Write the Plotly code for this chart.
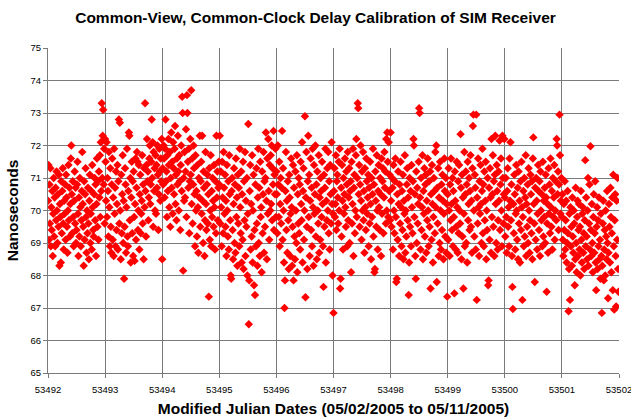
import plotly.graph_objects as go

# Start MJD of each day and the delay values (ns),
# listed in time order; samples are spread evenly over each day.
day_starts = [53492, 53493, 53494, 53495, 53496, 53497, 53498, 53499, 53500, 53501]

delay_53492 = [
    70.3, 71.4, 69.1, 70.8, 69.6, 71.3, 68.9, 70.1, 69.4, 70.6, 68.6, 69.9,
    71.0, 69.2, 70.4, 68.9, 70.7, 69.7, 71.2, 70.0, 69.0, 70.5, 69.5, 71.1,
    68.3, 70.2, 69.8, 68.4, 70.9, 69.3, 70.6, 71.3, 69.6, 68.8, 70.3, 69.9,
    70.8, 69.1, 71.1, 70.4, 69.5, 68.7, 70.0, 71.4, 69.7, 70.7, 69.2, 70.2,
    71.6, 72.0, 70.5, 69.3, 70.9, 69.8, 68.9, 70.3, 71.2, 69.6, 70.7, 69.0,
    69.4, 70.8, 71.5, 69.9, 68.6, 70.4, 69.2, 71.0, 70.1, 68.9, 69.7, 70.6,
    71.8, 70.2, 69.5, 68.3, 70.9, 69.1, 70.5, 71.3, 69.8, 68.7, 70.0, 69.3,
    70.7, 69.6, 68.5, 70.3, 71.1, 69.0, 69.9, 70.6, 68.8, 71.4, 70.1, 69.4,
    69.2, 70.5, 71.0, 69.7, 70.8, 68.6, 70.2, 71.6, 69.5, 70.9, 69.1, 71.2,
    70.4, 71.7, 69.8, 72.1, 70.6, 73.3, 71.0, 72.3, 73.1, 70.8, 71.9, 69.6,
]
delay_53493 = [
    72.2, 71.5, 70.3, 72.1, 69.8, 71.0, 70.6, 69.2, 71.8, 70.1, 68.9, 71.3,
    69.5, 68.7, 70.8, 71.6, 69.1, 70.4, 68.6, 71.9, 69.9, 70.7, 68.9, 71.2,
    69.4, 70.2, 71.4, 68.8, 70.9, 72.8, 69.6, 72.7, 70.0, 68.5, 71.1, 69.3,
    70.5, 71.7, 69.0, 70.3, 67.9, 69.5, 71.3, 70.8, 68.7, 70.1, 71.9, 69.2,
    68.9, 70.6, 72.4, 72.3, 69.7, 71.0, 68.4, 70.4, 71.5, 69.3, 70.9, 68.6,
    71.2, 69.8, 68.45, 70.2, 71.6, 69.1, 70.7, 71.8, 71.5, 69.4, 70.0, 71.4,
    68.8, 70.5, 71.1, 69.3, 69.9, 70.3, 71.7, 69.6, 70.8, 68.5, 71.3, 70.1,
    73.3, 70.6, 69.2, 71.4, 72.2, 70.9, 71.2, 69.7, 70.4, 71.6, 72.0, 70.2,
    70.8, 71.5, 72.8, 71.0, 72.1, 69.5, 71.8, 70.6, 71.3, 70.0, 71.7, 69.9,
    71.4, 70.7, 72.0, 71.1, 69.4, 70.5, 71.9, 71.2, 70.3, 71.6, 70.9, 72.2,
]
delay_53494 = [
    68.5, 71.3, 70.8, 72.0, 71.6, 70.4, 71.9, 72.8, 70.9, 71.2, 69.8, 71.7,
    70.6, 72.2, 71.4, 70.1, 71.8, 69.5, 71.0, 72.4, 70.7, 71.5, 69.9, 72.1,
    71.3, 70.5, 71.9, 72.6, 70.2, 71.1, 69.7, 71.6, 70.8, 72.3, 71.2, 70.0,
    71.7, 70.9, 69.4, 71.4, 72.0, 70.6, 73.5, 73.0, 68.15, 71.0, 70.3, 71.8,
    70.4, 71.2, 72.5, 69.8, 73.55, 73.0, 71.5, 70.7, 71.9, 69.3, 70.9, 72.2,
    71.1, 73.7, 70.2, 71.6, 69.6, 70.8, 72.0, 71.3, 70.5, 68.9, 71.7, 70.0,
    70.6, 69.2, 71.4, 70.1, 68.7, 71.0, 70.4, 72.3, 69.5, 70.9, 71.5, 69.9,
    72.3, 70.3, 69.0, 71.2, 70.7, 68.6, 69.7, 71.8, 70.2, 69.4, 70.8, 71.1,
    69.6, 70.5, 67.35, 71.3, 69.1, 70.0, 71.7, 68.9, 70.6, 69.8, 71.0, 70.3,
    69.5, 71.4, 70.1, 68.8, 70.9, 69.3, 72.3, 70.4, 71.2, 69.7, 70.7, 71.5,
]
delay_53495 = [
    70.8, 72.3, 69.6, 71.2, 70.1, 68.9, 71.5, 70.4, 69.3, 71.8, 70.7, 69.9,
    71.1, 69.5, 70.3, 68.6, 71.4, 70.0, 69.2, 70.9, 68.8, 71.7, 70.5, 69.7,
    68.0, 67.9, 70.6, 71.0, 69.4, 68.5, 70.2, 71.3, 69.0, 70.8, 68.7, 71.6,
    69.8, 70.4, 68.3, 71.1, 69.6, 70.7, 68.9, 71.9, 70.1, 69.3, 71.2, 68.4,
    70.5, 69.1, 71.5, 68.2, 70.9, 69.7, 71.8, 68.6, 70.3, 69.5, 71.0, 68.0,
    69.9, 72.66, 66.5, 67.85, 70.6, 71.4, 68.8, 70.2, 69.2, 71.7, 68.4, 70.0,
    71.1, 67.7, 69.4, 67.4, 70.8, 68.9, 71.3, 69.6, 68.3, 70.4, 71.9, 69.0,
    70.7, 68.6, 71.5, 69.8, 70.1, 68.1, 71.2, 69.3, 70.5, 71.8, 68.7, 70.9,
    69.5, 71.0, 72.4, 70.3, 68.5, 71.6, 69.9, 72.2, 70.6, 69.1, 71.4, 70.0,
    71.7, 70.2, 72.0, 69.7, 71.3, 70.8, 72.45, 69.4, 71.1, 70.5, 71.9, 69.8,
]
delay_53496 = [
    71.2, 70.5, 69.3, 72.0, 70.8, 69.8, 71.5, 68.9, 70.2, 71.0, 69.6, 70.7,
    72.45, 69.1, 71.3, 70.0, 68.4, 67.0, 67.85, 70.6, 71.8, 69.4, 70.3, 68.7,
    70.9, 69.7, 68.2, 71.1, 70.4, 68.6, 69.9, 71.6, 70.1, 68.3, 69.5, 71.4,
    67.85, 70.7, 69.2, 68.5, 71.2, 70.0, 69.0, 71.7, 68.1, 70.5, 69.6, 71.0,
    69.3, 70.8, 68.8, 71.5, 70.2, 69.7, 72.1, 68.4, 70.6, 71.3, 69.1, 70.0,
    72.9, 67.33, 70.4, 71.8, 69.5, 68.2, 70.9, 72.3, 69.8, 71.1, 68.6, 70.3,
    71.6, 69.4, 70.7, 68.9, 71.9, 70.1, 68.3, 71.4, 69.9, 70.5, 72.0, 69.2,
    70.8, 68.5, 71.2, 70.0, 69.6, 71.7, 68.7, 70.4, 69.1, 71.0, 70.6, 69.8,
    71.5, 70.2, 68.9, 67.65, 71.1, 69.5, 70.7, 71.9, 68.4, 70.3, 69.7, 71.3,
    70.0, 71.8, 69.3, 70.9, 68.8, 71.4, 70.5, 69.6, 72.1, 70.2, 68.0, 69.9,
]
delay_53497 = [
    66.85, 70.6, 71.3, 69.8, 70.2, 71.7, 69.4, 70.9, 71.1, 70.4, 69.6, 71.5,
    70.0, 71.9, 67.6, 67.9, 70.7, 69.2, 71.4, 70.3, 68.8, 71.0, 69.9, 70.5,
    71.6, 70.1, 69.5, 71.2, 70.8, 68.9, 71.8, 69.7, 70.4, 71.3, 69.0, 70.6,
    70.9, 68.1, 71.5, 69.6, 70.2, 71.9, 68.6, 70.7, 71.1, 69.3, 70.0, 71.7,
    72.2, 69.8, 71.0, 73.3, 73.15, 70.5, 71.4, 69.5, 70.8, 72.0, 70.3, 69.1,
    71.2, 70.0, 71.8, 69.7, 70.6, 68.7, 71.3, 70.1, 69.4, 71.6, 70.9, 69.9,
    70.4, 71.1, 68.9, 70.7, 69.6, 71.5, 70.2, 68.5, 71.0, 69.8, 70.5, 71.9,
    69.2, 70.8, 68.1, 68.2, 71.2, 70.3, 69.5, 71.7, 70.0, 68.8, 70.6, 71.4,
    70.1, 69.4, 71.0, 70.5, 68.6, 71.6, 69.9, 70.9, 71.3, 69.3, 70.4, 71.8,
    70.7, 71.2, 69.6, 72.2, 70.0, 72.4, 71.5, 69.8, 72.1, 70.6, 71.1, 69.7,
]
delay_53498 = [
    72.4, 70.3, 69.5, 71.0, 70.7, 68.8, 71.4, 70.0, 69.3, 70.9, 71.6, 69.8,
    67.8, 67.9, 70.5, 69.1, 71.2, 70.2, 68.6, 70.8, 69.6, 71.5, 70.1, 68.9,
    70.6, 69.4, 71.1, 68.5, 70.3, 69.9, 71.7, 68.7, 70.0, 69.2, 70.8, 71.3,
    69.7, 70.4, 67.4, 68.4, 71.0, 69.5, 70.6, 68.9, 71.4, 70.1, 69.3, 70.9,
    72.2, 72.0, 69.8, 70.5, 68.6, 67.9, 71.2, 69.0, 70.7, 69.6, 70.2, 71.5,
    73.15, 73.0, 70.4, 68.8, 71.0, 69.4, 70.1, 71.7, 68.5, 70.6, 69.9, 71.3,
    69.2, 70.8, 71.1, 68.7, 70.3, 69.7, 71.6, 70.0, 68.9, 70.9, 69.5, 71.2,
    67.6, 70.5, 69.1, 71.4, 70.2, 68.4, 69.8, 71.0, 70.6, 69.3, 71.8, 70.1,
    72.0, 67.8, 70.7, 69.6, 71.3, 68.6, 70.4, 69.0, 71.5, 70.0, 68.8, 70.8,
    69.4, 71.1, 70.3, 68.5, 69.9, 71.6, 70.6, 69.2, 71.0, 68.7, 70.2, 67.35,
]
delay_53499 = [
    70.5, 69.1, 71.3, 70.0, 68.6, 70.8, 69.7, 71.6, 70.2, 69.4, 71.0, 68.9,
    70.6, 69.8, 67.45, 71.2, 70.3, 68.8, 69.5, 71.5, 70.1, 68.7, 70.9, 69.3,
    71.4, 70.0, 69.6, 72.35, 70.7, 68.5, 71.1, 69.2, 70.4, 67.6, 69.9, 71.8,
    68.9, 70.5, 71.2, 69.0, 70.8, 68.4, 71.5, 69.7, 70.2, 71.0, 69.4, 70.6,
    71.7, 69.5, 70.3, 68.7, 71.3, 72.6, 72.95, 70.0, 69.2, 71.1, 70.7, 68.8,
    72.95, 67.25, 70.4, 69.6, 71.6, 70.1, 68.6, 70.9, 69.9, 71.4, 70.2, 69.0,
    70.6, 71.9, 69.3, 70.8, 68.9, 71.2, 69.7, 70.3, 71.5, 68.5, 70.0, 69.4,
    71.0, 67.7, 67.85, 70.7, 69.1, 71.3, 70.4, 68.7, 72.2, 69.8, 70.5, 71.7,
    69.5, 70.9, 68.6, 71.1, 72.3, 70.2, 69.0, 71.4, 70.6, 68.8, 69.7, 71.2,
    70.3, 72.15, 69.4, 70.8, 71.6, 70.0, 68.9, 72.3, 71.0, 69.6, 70.5, 72.2,
]
delay_53500 = [
    70.4, 69.2, 71.0, 69.8, 68.7, 70.6, 71.3, 69.5, 70.1, 68.9, 71.6, 70.3,
    72.1, 69.7, 70.8, 68.6, 67.65, 66.97, 70.2, 69.3, 71.1, 70.5, 68.8, 69.9,
    71.4, 70.0, 69.1, 70.7, 68.5, 71.2, 69.6, 70.3, 68.4, 70.9, 69.4, 71.5,
    70.1, 67.25, 69.8, 70.6, 68.9, 71.0, 69.2, 70.4, 71.7, 68.6, 70.2, 69.5,
    70.8, 69.0, 71.3, 70.0, 68.7, 69.7, 71.1, 70.5, 69.3, 70.9, 68.5, 71.6,
    72.25, 70.2, 69.6, 67.8, 70.7, 69.1, 71.0, 70.3, 68.8, 69.9, 71.4, 70.6,
    69.4, 70.9, 68.6, 71.2, 70.0, 69.7, 70.5, 68.9, 71.5, 69.2, 70.3, 69.8,
    70.7, 69.0, 71.1, 70.4, 67.5, 69.6, 70.2, 68.7, 71.3, 69.9, 70.8, 69.3,
    71.6, 70.1, 69.5, 70.6, 68.8, 71.0, 69.8, 70.4, 71.4, 69.1, 70.0, 70.9,
    69.7, 72.2, 72.0, 70.5, 71.2, 69.4, 70.8, 72.95, 71.7, 69.9, 70.3, 71.0,
]
delay_53501 = [
    69.8, 70.5, 69.1, 68.6, 70.2, 69.4, 70.9, 68.8, 69.7, 70.3, 68.4, 69.0,
    70.6, 69.3, 66.9, 68.2, 69.9, 67.25, 70.1, 68.9, 69.5, 68.3, 70.4, 69.2,
    68.7, 70.0, 69.6, 67.7, 68.5, 70.7, 69.0, 68.1, 69.8, 70.3, 68.6, 69.4,
    70.2, 68.8, 69.5, 68.0, 70.6, 69.1, 68.4, 69.9, 70.1, 68.7, 69.3, 68.2,
    69.7, 71.55, 68.9, 70.4, 69.2, 68.5, 70.0, 71.0, 68.3, 69.6, 70.8, 68.8,
    71.98, 69.4, 68.6, 70.2, 69.0, 68.1, 69.8, 70.5, 68.7, 69.3, 70.9, 68.4,
    67.55, 69.5, 70.1, 68.2, 69.7, 68.9, 70.4, 68.5, 69.1, 67.9, 69.9, 68.6,
    66.85, 68.3, 69.6, 70.3, 67.85, 68.8, 69.4, 68.0, 70.0, 69.2, 68.5, 70.6,
    69.0, 67.3, 68.7, 70.2, 69.5, 68.4, 70.7, 69.8, 68.1, 69.3, 70.4, 67.55,
    71.1, 68.9, 66.95, 69.7, 70.5, 68.6, 67.05, 70.3, 69.1, 71.0, 68.2, 67.5,
]

daily_delays = [delay_53492, delay_53493, delay_53494, delay_53495, delay_53496,
                delay_53497, delay_53498, delay_53499, delay_53500, delay_53501]

x_ticks = [53492, 53493, 53494, 53495, 53496, 53497, 53498, 53499, 53500, 53501, 53502]
y_ticks = [65, 66, 67, 68, 69, 70, 71, 72, 73, 74, 75]

mjd, ns = [], []
for start, vals in zip(day_starts, daily_delays):
    n = len(vals)
    for i, v in enumerate(vals):
        mjd.append(start + i / n)
        ns.append(v)

FONT = "Liberation Sans, Arial, sans-serif"
GRID = "#7a7a7a"

fig = go.Figure(go.Scatter(
    x=mjd, y=ns, mode="markers",
    marker=dict(symbol="diamond", size=6.5, color="#ff0000", line=dict(width=0)),
    hoverinfo="skip",
))

fig.update_layout(
    width=631, height=420,
    margin=dict(l=48, r=12, t=48, b=47, autoexpand=False),
    paper_bgcolor="white", plot_bgcolor="white",
    showlegend=False,
    font=dict(family=FONT, color="black"),
    title=dict(
        text="<b>Common-View, Common-Clock Delay Calibration of SIM Receiver</b>",
        x=0.5, xanchor="center", y=1 - 18 / 420, yanchor="middle",
        font=dict(size=15.5, family=FONT, color="black"),
    ),
)

fig.update_xaxes(
    range=[53492, 53502], tickvals=x_ticks, ticktext=[str(t) for t in x_ticks],
    showgrid=True, gridcolor=GRID, gridwidth=1,
    showline=True, linecolor=GRID, linewidth=1,
    ticks="outside", ticklen=4, tickcolor=GRID,
    tickfont=dict(size=9.5, family=FONT, color="black"),
    ticklabeloverflow="allow", ticklabelstandoff=4, automargin=False,
    zeroline=False,
    title=dict(text="<b>Modified Julian Dates (05/02/2005 to 05/11/2005)</b>",
               font=dict(size=15.5, family=FONT, color="black"), standoff=8),
)
fig.update_yaxes(
    range=[65, 75], tickvals=y_ticks,
    showgrid=True, gridcolor=GRID, gridwidth=1,
    showline=True, linecolor=GRID, linewidth=1,
    ticks="outside", ticklen=4, tickcolor=GRID,
    tickfont=dict(size=9.5, family=FONT, color="black"),
    automargin=False,
    zeroline=False,
    title=dict(text="<b>Nanoseconds</b>",
               font=dict(size=15.5, family=FONT, color="black"), standoff=8),
)

fig.write_html("out.html", config={"displayModeBar": False},
               post_script="document.body.style.margin='0px';")
